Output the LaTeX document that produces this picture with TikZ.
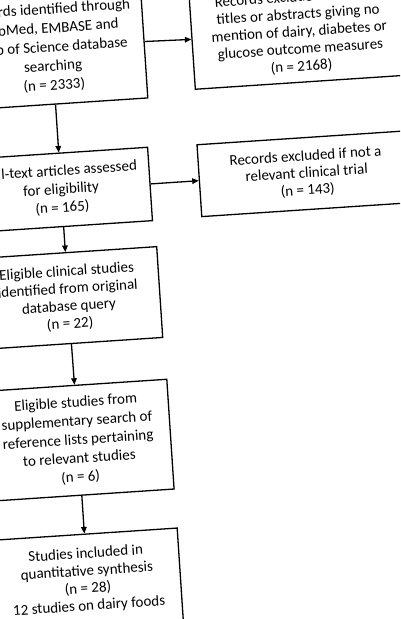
\documentclass[tikz,border=0pt]{standalone}
\usepackage{fontspec}
\setmainfont{Carlito}
\usetikzlibrary{arrows.meta}
\begin{document}
\begin{tikzpicture}[x=1pt,y=1pt,
  box/.style={draw, line width=1.3pt, transform shape, align=center, inner sep=0pt,
    font=\fontsize{15}{18}\selectfont},
  arr/.style={line width=1.3pt, -{Triangle[length=6.5pt,width=5.5pt]}}]
\useasboundingbox (0,0) rectangle (400,-619);
\clip (0,0) rectangle (400,-619);
\fill[white] (0,0) rectangle (400,-619);
\begin{scope}[rotate=3.8]
\node[box, minimum width=185pt, minimum height=113pt, font=\fontsize{15}{19}\selectfont] (b1) at (48.5,-51)
  {\phantom{Reco}rds identified through\\ \phantom{Pu}bMed, EMBASE and\\ \phantom{We}b of Science database\\ searching\\ (n = 2333)};
\node[box, minimum width=215pt, minimum height=100pt, font=\fontsize{15}{17.4}\selectfont] (b2) at (296.5,-52)
  {Records excluded based on\\ titles or abstracts giving no\\ mention of dairy, diabetes or\\ glucose outcome measures\\ (n = 2168)};
\node[box, minimum width=178pt, minimum height=73.5pt, font=\fontsize{15}{18.5}\selectfont] (b3) at (48.5,-193.5)
  {\phantom{Ful}l-text articles assessed\\ for eligibility\\ (n = 165)};
\node[box, minimum width=215pt, minimum height=72pt, font=\fontsize{15}{17}\selectfont] (b4) at (294.5,-193.5)
  {Records excluded if not a\\ relevant clinical trial\\ (n = 143)};
\node[box, minimum width=183pt, minimum height=91pt, font=\fontsize{15}{17.5}\selectfont] (b5) at (48.5,-302)
  {Eligible clinical studies\\ identified from original\\ database query\\ (n = 22)};
\node[box, minimum width=185pt, minimum height=110pt, font=\fontsize{15}{18.7}\selectfont] (b6) at (48.8,-444.5)
  {Eligible studies from\\ supplementary search of\\ reference lists pertaining\\ to relevant studies\\ (n = 6)};
\node[box, anchor=north, font=\fontsize{15}{17.5}\selectfont] (b7) at (48.8,-538)
  {\parbox[t][110pt][t]{186pt}{\centering\rule{0pt}{24pt}Studies included in\\ quantitative synthesis\\ (n = 28)\\ 12 studies on dairy foods}};
\draw[arr] (b1.south) -- (b3.north);
\draw[arr] (b1.east) -- (b2.west);
\draw[arr] (b3.south) -- (b5.north);
\draw[arr] (b3.east) -- (b4.west);
\draw[arr] (b5.south) -- (b6.north);
\draw[arr] (b6.south) -- (b7.north);
\end{scope}
\end{tikzpicture}
\end{document}
